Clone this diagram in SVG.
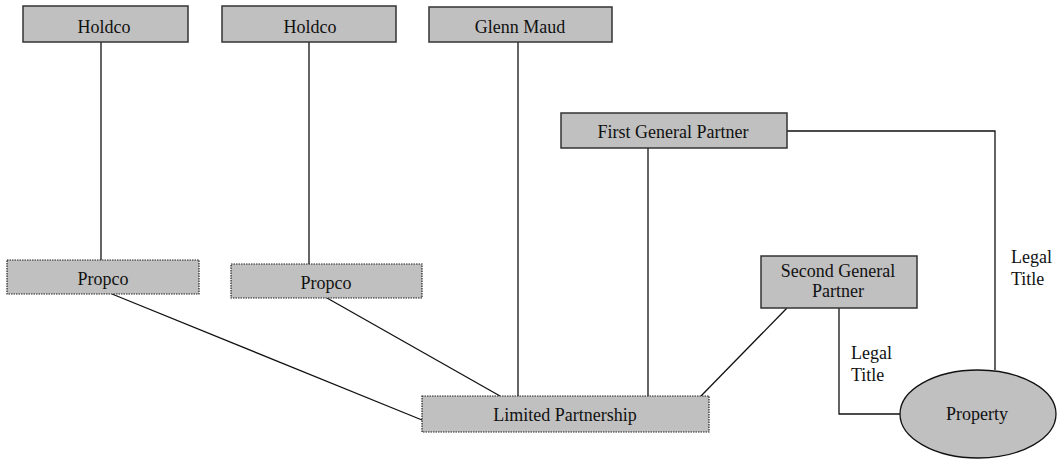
<svg xmlns="http://www.w3.org/2000/svg" width="1057" height="459" viewBox="0 0 1057 459">
  <style>
    .box { fill: #c0c0c0; stroke: #333; stroke-width: 1.5; }
    .dotbox { fill: #c0c0c0; stroke: #222; stroke-width: 1.2; stroke-dasharray: 1.5 1; }
    .lbl { font-family: "Liberation Serif", "Times New Roman", serif; font-size: 18px; fill: #111; }
    .mid { text-anchor: middle; }
    .conn { fill: none; stroke: #111; stroke-width: 1.3; }
  </style>
  <rect width="1057" height="459" fill="#fff"/>

  <!-- connectors -->
  <g id="connectors" class="conn">
    <line x1="101" y1="42" x2="101" y2="260"/>
    <line x1="309" y1="42" x2="309" y2="264"/>
    <line x1="518" y1="42" x2="518" y2="396"/>
    <line x1="648" y1="148" x2="648" y2="396"/>
    <line x1="112" y1="294" x2="422" y2="420"/>
    <line x1="327" y1="298" x2="500" y2="396"/>
    <line x1="787" y1="308" x2="701" y2="396"/>
    <polyline points="787,131 995,131 995,370"/>
    <polyline points="839,308 839,414 900,414"/>
  </g>

  <g id="holdco1">
    <rect class="box" x="23" y="6" width="165" height="36"/>
    <text class="lbl mid" x="104" y="33">Holdco</text>
  </g>
  <g id="holdco2">
    <rect class="box" x="222" y="6" width="174" height="36"/>
    <text class="lbl mid" x="310" y="33">Holdco</text>
  </g>
  <g id="glenn-maud">
    <rect class="box" x="429" y="7" width="183" height="35"/>
    <text class="lbl mid" x="520" y="33">Glenn Maud</text>
  </g>
  <g id="first-general-partner">
    <rect class="box" x="561" y="113" width="226" height="35"/>
    <text class="lbl mid" x="673" y="138">First General Partner</text>
  </g>
  <g id="propco1">
    <rect class="dotbox" x="7" y="260" width="192" height="34"/>
    <text class="lbl mid" x="103" y="285">Propco</text>
  </g>
  <g id="propco2">
    <rect class="dotbox" x="231" y="264" width="191" height="34"/>
    <text class="lbl mid" x="326" y="289">Propco</text>
  </g>
  <g id="second-general-partner">
    <rect class="box" x="761" y="256" width="156" height="52"/>
    <text class="lbl mid" x="838" y="277">Second General</text>
    <text class="lbl mid" x="838" y="297">Partner</text>
  </g>
  <g id="limited-partnership">
    <rect class="dotbox" x="422" y="396" width="287" height="36"/>
    <text class="lbl mid" x="565" y="421">Limited Partnership</text>
  </g>
  <g id="property">
    <ellipse cx="978" cy="414" rx="78" ry="44" fill="#c0c0c0" stroke="#111" stroke-width="1.3"/>
    <text class="lbl mid" x="977" y="420">Property</text>
  </g>

  <g id="labels">
    <text class="lbl" x="1011" y="263">Legal</text>
    <text class="lbl" x="1011" y="285">Title</text>
    <text class="lbl" x="851" y="359">Legal</text>
    <text class="lbl" x="851" y="381">Title</text>
  </g>
</svg>
